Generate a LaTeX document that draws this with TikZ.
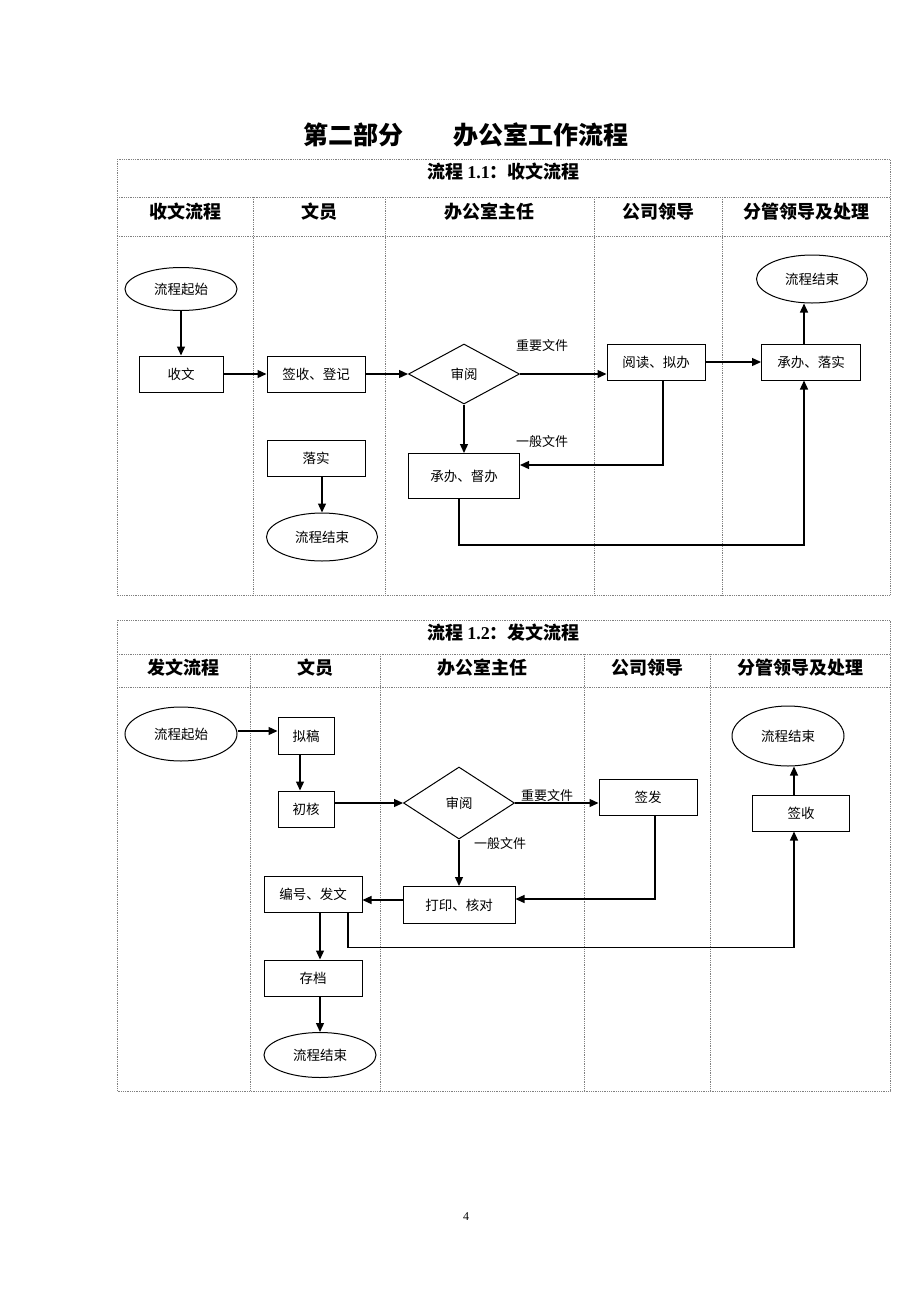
\documentclass[tikz,border=0pt]{standalone}
\usepackage{fontspec}
\setmainfont{Liberation Serif}
\newfontfamily\cjk{Noto Sans CJK SC}
\usetikzlibrary{arrows.meta}
\usetikzlibrary{shapes.geometric}

\begin{document}
\begin{tikzpicture}[x = 1pt, y = -1pt, font = \cjk]
	\tikzstyle{laneStyle} = [gray, line width = 0.8pt, densely dotted]
	\tikzstyle{headStyle} = [font = \cjk\bfseries\fontsize{18}{20}\selectfont]
	\tikzstyle{noteStyle} = [font = \cjk\fontsize{13}{15}\selectfont, inner sep = 0pt]
	\tikzstyle{boxStyle} = [shape = rectangle, draw, line width = 1pt, minimum width = 98pt, minimum height = 36pt, inner sep = 0pt, font = \cjk\fontsize{13.5}{15}\selectfont]
	\tikzstyle{endStyle} = [shape = ellipse, draw, line width = 1pt, minimum width = 112pt, minimum height = 46pt, inner sep = 0pt, font = \cjk\fontsize{13.5}{15}\selectfont]
	\tikzstyle{checkStyle} = [shape = diamond, draw, line width = 1pt, minimum width = 111pt, minimum height = 60pt, inner sep = 0pt, font = \cjk\fontsize{13.5}{15}\selectfont]
	\tikzstyle{arrowStyle} = [line width = 1.3pt, -{Triangle[length = 9pt, width = 8pt]}]
	\useasboundingbox (0, 0) rectangle (920, 1302);
	\node[font = \cjk\bfseries\fontsize{25}{28}\selectfont] (title) at (466, 135) {第二部分　　办公室工作流程};
	\node[font = \rmfamily\fontsize{12}{14}\selectfont] (page) at (466, 1217) {4};
	% 流程 1.1
	\draw[laneStyle] (117, 159) rectangle (890, 595);
	\draw[laneStyle] (117, 197) -- (890, 197);
	\draw[laneStyle] (117, 236) -- (890, 236);
	\foreach \x in {253, 385, 594, 722} \draw[laneStyle] (\x, 197) -- (\x, 595);
	\node[headStyle] (t1) at (503.5, 172) {流程 {\rmfamily 1.1}：收文流程};
	\node[headStyle] (h0) at (185, 212) {收文流程};
	\node[headStyle] (h1) at (319, 212) {文员};
	\node[headStyle] (h2) at (489.5, 212) {办公室主任};
	\node[headStyle] (h3) at (658, 212) {公司领导};
	\node[headStyle] (h4) at (806, 212) {分管领导及处理};
	\node[endStyle, minimum height = 43pt] (s0) at (181, 289) {流程起始};
	\node[boxStyle, minimum width = 84pt] (s1) at (181, 374) {收文};
	\node[boxStyle] (s2) at (316, 374) {签收、登记};
	\node[checkStyle] (s3) at (464, 374) {审阅};
	\node[boxStyle] (s4) at (316, 458) {落实};
	\node[endStyle, minimum width = 111pt, minimum height = 48pt] (s5) at (322, 537) {流程结束};
	\node[boxStyle, minimum width = 111pt, minimum height = 45pt] (s6) at (464, 476) {承办、督办};
	\node[boxStyle] (s7) at (656, 362) {阅读、拟办};
	\node[boxStyle, minimum width = 99pt] (s8) at (811, 362) {承办、落实};
	\node[endStyle, minimum width = 111pt, minimum height = 48pt] (s9) at (812, 279) {流程结束};
	\node[noteStyle] (n0) at (542, 346) {重要文件};
	\node[noteStyle] (n1) at (542, 442) {一般文件};
	\draw[arrowStyle] (s0) -- (s1);
	\draw[arrowStyle] (s1) -- (s2);
	\draw[arrowStyle] (s2) -- (s3);
	\draw[arrowStyle] (s3.east) -- (s3.east -| s7.west);
	\draw[arrowStyle] (s7) -- (s8);
	\draw[arrowStyle] ([xshift = -7pt]s8.north) -- ([xshift = -7pt]s8.north |- s9.south);
	\draw[arrowStyle] (s3) -- (s6);
	\draw[arrowStyle] (s5 |- s4.south) -- (s5.north);
	\draw[arrowStyle] ([xshift = 7pt]s7.south) |- ([yshift = 11pt]s6.east);
	\draw[arrowStyle] ([xshift = -5pt]s6.south) -- ++(0, 46) -| ([xshift = -7pt]s8.south);
	% 流程 1.2
	\draw[laneStyle] (117, 620) rectangle (890, 1091);
	\draw[laneStyle] (117, 654) -- (890, 654);
	\draw[laneStyle] (117, 687) -- (890, 687);
	\foreach \x in {250, 380, 584, 710} \draw[laneStyle] (\x, 654) -- (\x, 1091);
	\node[headStyle] (t2) at (503.5, 633) {流程 {\rmfamily 1.2}：发文流程};
	\node[headStyle] (g0) at (183.5, 668) {发文流程};
	\node[headStyle] (g1) at (315, 668) {文员};
	\node[headStyle] (g2) at (482, 668) {办公室主任};
	\node[headStyle] (g3) at (647, 668) {公司领导};
	\node[headStyle] (g4) at (800, 668) {分管领导及处理};
	\node[endStyle, minimum height = 54pt] (f0) at (181, 734) {流程起始};
	\node[boxStyle, minimum width = 56pt, minimum height = 37pt] (f1) at (306, 736) {拟稿};
	\node[boxStyle, minimum width = 56pt] (f2) at (306, 809) {初核};
	\node[checkStyle, minimum height = 72pt] (f3) at (459, 803) {审阅};
	\node[boxStyle] (f4) at (648, 797) {签发};
	\node[endStyle, minimum height = 60pt] (f5) at (788, 736) {流程结束};
	\node[boxStyle, minimum width = 97pt] (f6) at (801, 813) {签收};
	\node[boxStyle] (f7) at (313, 894) {编号、发文};
	\node[boxStyle, minimum width = 112pt, minimum height = 37pt] (f8) at (459, 905) {打印、核对};
	\node[boxStyle] (f9) at (313, 978) {存档};
	\node[endStyle, minimum height = 45pt] (f10) at (320, 1055) {流程结束};
	\node[noteStyle] (m0) at (547, 796) {重要文件};
	\node[noteStyle] (m1) at (500, 844) {一般文件};
	\draw[arrowStyle] ([yshift = 3pt]f0.east) -- ([yshift = 5pt]f1.west);
	\draw[arrowStyle] ([xshift = -6pt]f1.south) -- ([xshift = -6pt]f2.north);
	\draw[arrowStyle] ([yshift = 6pt]f2.east) -- (f3.west);
	\draw[arrowStyle] (f3.east) -- (f3.east -| f4.west);
	\draw[arrowStyle] (f3) -- (f8);
	\draw[arrowStyle] ([xshift = 7pt]f4.south) |- ([yshift = 6pt]f8.east);
	\draw[arrowStyle] ([yshift = 5pt]f8.west) -- ([yshift = -6pt]f7.east);
	\draw[arrowStyle] ([xshift = 7pt]f7.south) -- ([xshift = 7pt]f9.north);
	\draw[arrowStyle] (f10 |- f9.south) -- (f10.north);
	\draw[arrowStyle] ([xshift = 35pt]f7.south) -- ++(0, 35) -| ([xshift = -7pt]f6.south);
	\draw[arrowStyle] ([xshift = -7pt]f6.north) -- ([xshift = -7pt]f6.north |- f5.south);
\end{tikzpicture}
\end{document}
